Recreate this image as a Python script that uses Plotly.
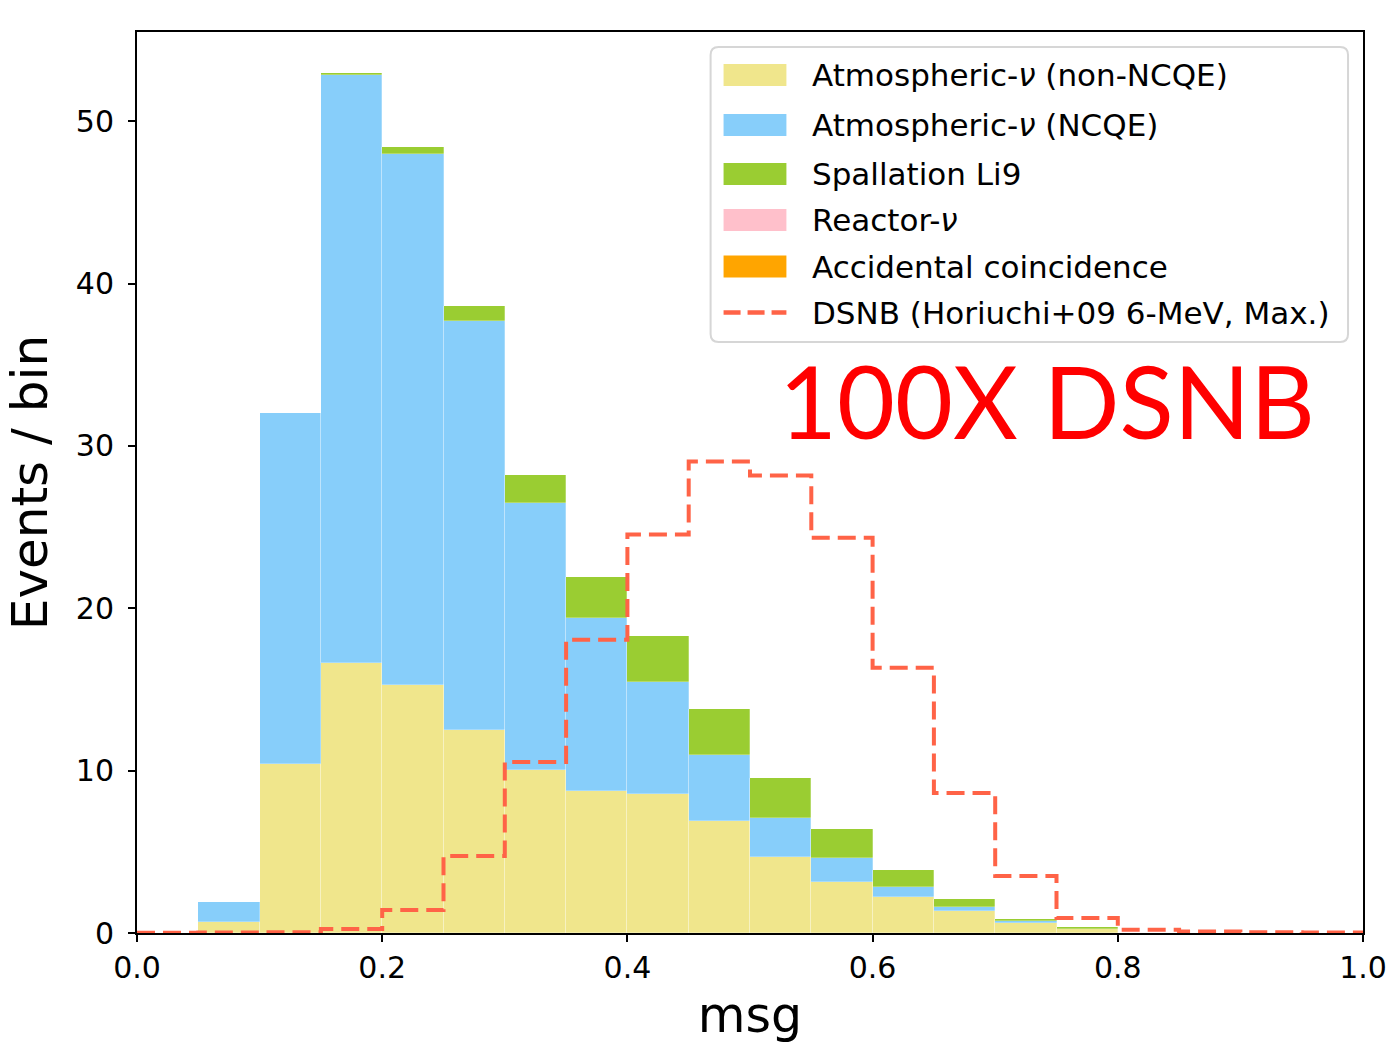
import plotly.graph_objects as go

# msg histogram: 20 bins of width 0.05 on [0, 1]
bin_edges = [round(0.05 * i, 2) for i in range(21)]
bin_centers = [round(0.025 + 0.05 * i, 3) for i in range(20)]

atm_non_ncqe = [0.0, 0.65, 10.42, 16.65, 15.29, 12.52, 10.05, 8.75, 8.57, 6.90,
                4.69, 3.16, 2.24, 1.36, 0.64, 0.25, 0.0, 0.0, 0.0, 0.0]
atm_ncqe = [0.0, 1.28, 21.64, 36.20, 32.68, 25.15, 16.46, 10.67, 6.90, 4.07,
            2.40, 1.46, 0.62, 0.26, 0.10, 0.02, 0.0, 0.0, 0.0, 0.0]
spallation_li9 = [0.0, 0.0, 0.0, 0.12, 0.43, 0.93, 1.73, 2.53, 2.84, 2.84,
                  2.47, 1.79, 1.03, 0.46, 0.14, 0.08, 0.0, 0.0, 0.0, 0.0]
reactor_nu = [0.0] * 20
accidental = [0.0] * 20
dsnb = [0.02, 0.03, 0.05, 0.25, 1.42, 4.75, 10.54, 18.06, 24.54, 29.04,
        28.18, 24.35, 16.34, 8.63, 3.51, 0.92, 0.20, 0.10, 0.05, 0.03]

series_names = ["Atmospheric-<i>ν</i> (non-NCQE)", "Atmospheric-<i>ν</i> (NCQE)",
                "Spallation Li9", "Reactor-<i>ν</i>", "Accidental coincidence"]
series_values = [atm_non_ncqe, atm_ncqe, spallation_li9, reactor_nu, accidental]
series_colors = ["#f0e68c", "#87cefa", "#9acd32", "#ffc0cb", "#ffa500"]
dsnb_name = "DSNB (Horiuchi+09 6-MeV, Max.)"
dsnb_color = "#ff6347"

# figure geometry (pixels)
W, H = 1399, 1052
ML, MR, MT, MB = 137, 33, 32, 119
PW, PH = W - ML - MR, H - MT - MB


def px(xp):
    return (xp - ML) / PW


def py(yp):
    return (H - MB - yp) / PH


fig = go.Figure()

# stacked background histograms
for name, vals, col in zip(series_names, series_values, series_colors):
    fig.add_trace(go.Bar(
        x=bin_centers, y=vals, width=0.05, name=name,
        marker=dict(color=col, line=dict(width=0.6, color="rgba(255,255,255,0.45)")),
        showlegend=False,
    ))

# DSNB signal as a dashed step outline
fig.add_trace(go.Scatter(
    x=bin_edges, y=dsnb + [dsnb[-1]], mode="lines", name=dsnb_name, showlegend=False,
    line=dict(color=dsnb_color, width=4, shape="hv", dash="18px,8px"),
))

# legend box drawn with shapes (wide patches, rounded frame)
shapes, annotations = [], []
bx0, bx1, by0, by1, r = 712, 1351, 47, 342, 8
rx, ry = r / PW, r / PH
X0, X1, Y0, Y1 = px(bx0), px(bx1), py(by1), py(by0)
frame = (f"M{X0 + rx},{Y0} L{X1 - rx},{Y0} Q{X1},{Y0} {X1},{Y0 + ry} "
         f"L{X1},{Y1 - ry} Q{X1},{Y1} {X1 - rx},{Y1} L{X0 + rx},{Y1} "
         f"Q{X0},{Y1} {X0},{Y1 - ry} L{X0},{Y0 + ry} Q{X0},{Y0} {X0 + rx},{Y0} Z")
shapes.append(dict(type="path", path=frame, xref="paper", yref="paper",
                   fillcolor="rgba(255,255,255,0.8)", line=dict(color="#d6d6d6", width=2),
                   layer="above"))
row_y = [75, 125, 174, 220, 266.5, 312.5]
for name, col, yc in zip(series_names, series_colors, row_y):
    shapes.append(dict(type="rect", xref="paper", yref="paper",
                       x0=px(725), x1=px(788), y0=py(yc + 11), y1=py(yc - 11),
                       fillcolor=col, line=dict(width=0), layer="above"))
shapes.append(dict(type="line", xref="paper", yref="paper",
                   x0=px(725), x1=px(788), y0=py(row_y[-1]), y1=py(row_y[-1]),
                   line=dict(color=dsnb_color, width=4.5, dash="17px,7px"), layer="above"))
for name, yc in zip(series_names + [dsnb_name], row_y):
    annotations.append(dict(text=name, xref="paper", yref="paper",
                            x=px(812), y=py(yc), xanchor="left", yanchor="middle",
                            showarrow=False,
                            font=dict(family="DejaVu Sans", size=31, color="black")))

annotations.append(dict(
    text="100X DSNB", xref="paper", yref="paper", x=px(1049), y=py(400),
    xanchor="center", yanchor="middle", showarrow=False,
    font=dict(family="Lato", size=100, color="#ff0000"),
))

axis_common = dict(
    showline=True, linecolor="black", linewidth=2, mirror=True,
    ticks="outside", ticklen=7, tickwidth=2, tickcolor="black",
    showgrid=False, zeroline=False,
    tickfont=dict(family="DejaVu Sans", size=30, color="black"),
)

fig.update_layout(
    width=W, height=H,
    barmode="stack", bargap=0, showlegend=False,
    plot_bgcolor="white", paper_bgcolor="white",
    margin=dict(l=ML, r=MR, t=MT, b=MB),
    font=dict(family="DejaVu Sans", color="black"),
    xaxis=dict(range=[0, 1.0], tickvals=[0, 0.2, 0.4, 0.6, 0.8, 1.0],
               ticktext=["0.0", "0.2", "0.4", "0.6", "0.8", "1.0"],
               title=dict(text="msg", font=dict(size=49), standoff=14), **axis_common),
    yaxis=dict(range=[0, 55.5], tickvals=[0, 10, 20, 30, 40, 50],
               ticklabelstandoff=8,
               title=dict(text="Events / bin", font=dict(size=50), standoff=12), **axis_common),
    shapes=shapes,
    annotations=annotations,
)

fig.write_html("out.html")
